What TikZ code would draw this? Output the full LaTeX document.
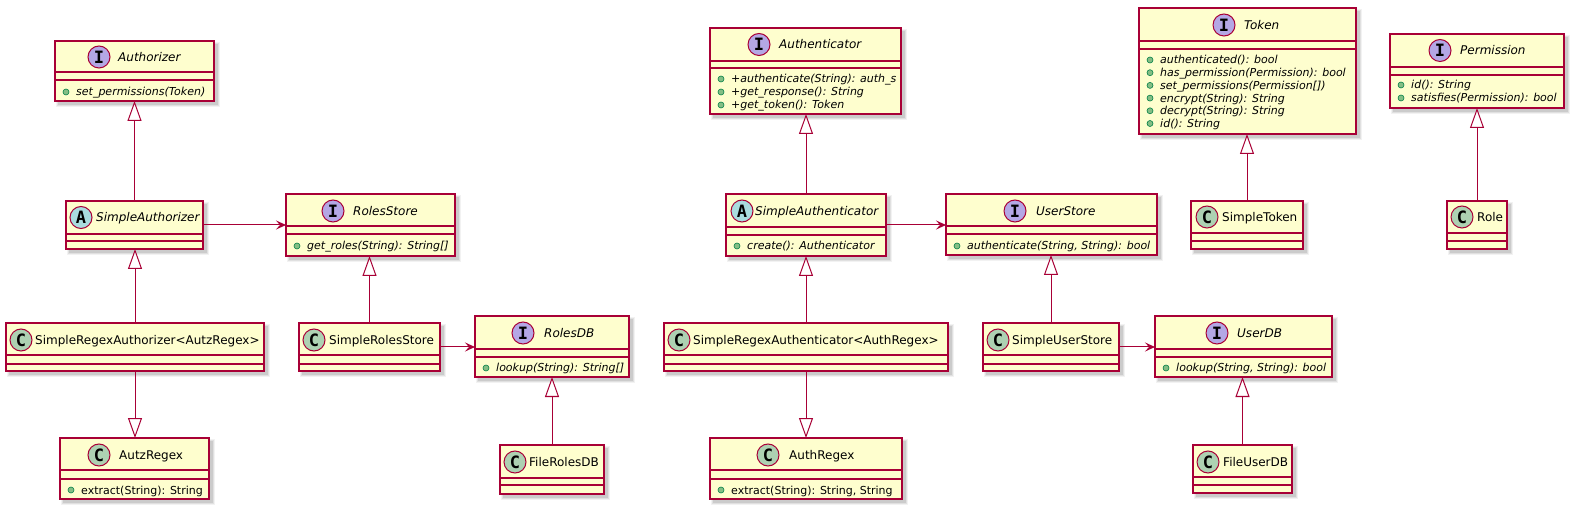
\documentclass[tikz,border=0pt]{standalone}
\usepackage{fontspec}
\setmainfont{DejaVu Sans}
\newfontfamily\iconfamily{DejaVu Sans Mono}
\usetikzlibrary{arrows.meta}
\definecolor{umlborder}{HTML}{A80036}
\definecolor{umlfill}{HTML}{FEFECE}
\definecolor{icI}{HTML}{B4A7E5}
\definecolor{icA}{HTML}{A9DCDF}
\definecolor{icC}{HTML}{ADD1B2}
\definecolor{bulfill}{HTML}{84BE84}
\definecolor{bulline}{HTML}{038048}
\tikzset{
 classbox/.style={rectangle, draw=umlborder, fill=umlfill, line width=1.5pt, inner sep=0pt, outer sep=0pt},
 sepline/.style={draw=umlborder, line width=1.5pt},
 iconc/.style={circle, draw=umlborder, line width=1pt, minimum size=22pt, inner sep=0pt, font=\iconfamily\bfseries\fontsize{17}{17}\selectfont},
 titletxt/.style={inner sep=0pt, anchor=base west, font=\fontsize{12}{14}\selectfont},
 ititle/.style={inner sep=0pt, anchor=base west, font=\fontsize{12}{14}\selectfont\itshape},
 memtxt/.style={inner sep=0pt, anchor=base west, font=\fontsize{11}{13}\selectfont},
 imem/.style={inner sep=0pt, anchor=base west, font=\fontsize{11}{13}\selectfont\itshape},
 bullet/.style={circle, draw=bulline, fill=bulfill, line width=0.6pt, minimum size=6pt, inner sep=0pt},
 ext/.style={draw=umlborder, line width=1pt, -{Triangle[length=20pt,width=14pt,fill=white]}},
 assoc/.style={draw=umlborder, line width=1pt, -{Stealth[length=10pt,width=9pt,inset=4pt]}},
}
% #1 name, #2 x1, #3 y1, #4 x2, #5 y2, #6 sep1, #7 sep2
\newcommand\cbox[7]{%
 \fill[black,opacity=.05] (#2+1,#3+1) rectangle (#4+6,#5+6);
 \fill[black,opacity=.07] (#2+2,#3+2) rectangle (#4+5,#5+5);
 \fill[black,opacity=.09] (#2+3,#3+3) rectangle (#4+4,#5+4);
 \node[classbox, anchor=north west, minimum width={(#4-#2)*1pt}, minimum height={(#5-#3)*1pt}] (#1) at (#2,#3) {};
 \draw[sepline] (#2,#6) -- (#4,#6);
 \draw[sepline] (#2,#7) -- (#4,#7);
}
% #1 name, #2 icon x, #3 y, #4 colour, #5 letter, #6 text x, #7 style, #8 text
\newcommand\ctitle[8]{%
 \node[iconc, fill=#4] (#1-ic) at (#2,#3) {#5};
 \node[#7] (#1-t) at (#6,#3+4.5) {#8};
}
% #1 node name, #2 box left, #3 y, #4 style, #5 text
\newcommand\cmem[5]{%
 \node[bullet] (#1-b) at (#2+11,#3) {};
 \node[#4] (#1) at (#2+21,#3+4) {#5};
}
\begin{document}
\begin{tikzpicture}[x=1pt,y=-1pt]
\useasboundingbox (0,0) rectangle (1582,510);
\fill[white] (0,0) rectangle (1582,510);

% Authorizer
\cbox{auth}{55}{41}{214}{101}{72}{80}
\ctitle{auth}{99}{57}{icI}{I}{118}{ititle}{Authorizer}
\cmem{auth-m1}{55}{92}{imem}{set\_permissions(Token)}

% SimpleAuthorizer
\cbox{sa}{66}{201}{203}{249}{234}{241}
\ctitle{sa}{81}{217.5}{icA}{A}{96}{ititle}{SimpleAuthorizer}

% RolesStore
\cbox{rs}{286}{194}{455}{256}{226}{234}
\ctitle{rs}{333}{211}{icI}{I}{353}{ititle}{RolesStore}
\cmem{rs-m1}{286}{246}{imem}{get\_roles(String): String[]}

% SimpleRegexAuthorizer
\cbox{sra}{6}{323}{264}{371}{355}{364}
\ctitle{sra}{21}{340}{icC}{C}{35}{titletxt}{SimpleRegexAuthorizer<AutzRegex>}

% AutzRegex
\cbox{autz}{60}{438}{209}{499}{470}{479}
\ctitle{autz}{99}{455}{icC}{C}{119}{titletxt}{AutzRegex}
\cmem{autz-m1}{60}{490}{memtxt}{extract(String): String}

% SimpleRolesStore
\cbox{srs}{299}{323}{440}{371}{355}{364}
\ctitle{srs}{314}{340}{icC}{C}{329}{titletxt}{SimpleRolesStore}

% RolesDB
\cbox{rdb}{475}{316}{629}{377}{349}{357}
\ctitle{rdb}{523}{333}{icI}{I}{544}{ititle}{RolesDB}
\cmem{rdb-m1}{475}{368}{imem}{lookup(String): String[]}

% FileRolesDB
\cbox{frdb}{500}{445}{604}{494}{478}{485}
\ctitle{frdb}{515}{462}{icC}{C}{529}{titletxt}{FileRolesDB}

% Authenticator
\cbox{authn}{710}{28}{901}{114}{61}{68}
\ctitle{authn}{759}{44.5}{icI}{I}{779}{ititle}{Authenticator}
\cmem{authn-m1}{710}{79}{imem}{+authenticate(String): auth\_s}
\cmem{authn-m2}{710}{92}{imem}{+get\_response(): String}
\cmem{authn-m3}{710}{105}{imem}{+get\_token(): Token}

% SimpleAuthenticator
\cbox{sauthn}{726}{194}{886}{256}{227}{235}
\ctitle{sauthn}{742}{211}{icA}{A}{755}{ititle}{SimpleAuthenticator}
\cmem{sauthn-m1}{726}{246}{imem}{create(): Authenticator}

% SimpleRegexAuthenticator
\cbox{srauthn}{664}{323}{948}{371}{355}{364}
\ctitle{srauthn}{679}{340}{icC}{C}{693}{titletxt}{SimpleRegexAuthenticator<AuthRegex>}

% AuthRegex
\cbox{authr}{710}{438}{902}{499}{470}{479}
\ctitle{authr}{768}{455}{icC}{C}{789}{titletxt}{AuthRegex}
\cmem{authr-m1}{710}{490}{memtxt}{extract(String): String, String}

% UserStore
\cbox{us}{946}{194}{1157}{255}{226}{234}
\ctitle{us}{1015}{211}{icI}{I}{1036}{ititle}{UserStore}
\cmem{us-m1}{946}{246}{imem}{authenticate(String, String): bool}

% SimpleUserStore
\cbox{sus}{983}{323}{1119}{371}{355}{364}
\ctitle{sus}{998}{340}{icC}{C}{1012}{titletxt}{SimpleUserStore}

% UserDB
\cbox{udb}{1155}{316}{1332}{377}{349}{357}
\ctitle{udb}{1217}{333}{icI}{I}{1237}{ititle}{UserDB}
\cmem{udb-m1}{1155}{368}{imem}{lookup(String, String): bool}

% FileUserDB
\cbox{fudb}{1193}{445}{1292}{493}{477}{485}
\ctitle{fudb}{1208}{462}{icC}{C}{1223}{titletxt}{FileUserDB}

% Token
\cbox{tok}{1139}{8}{1356}{134}{41}{49}
\ctitle{tok}{1224}{25}{icI}{I}{1244}{ititle}{Token}
\cmem{tok-m1}{1139}{60}{imem}{authenticated(): bool}
\cmem{tok-m2}{1139}{72.7}{imem}{has\_permission(Permission): bool}
\cmem{tok-m3}{1139}{85.4}{imem}{set\_permissions(Permission[])}
\cmem{tok-m4}{1139}{98.1}{imem}{encrypt(String): String}
\cmem{tok-m5}{1139}{110.8}{imem}{decrypt(String): String}
\cmem{tok-m6}{1139}{123.5}{imem}{id(): String}

% SimpleToken
\cbox{stok}{1191}{201}{1303}{249}{233}{241}
\ctitle{stok}{1207}{217}{icC}{C}{1222}{titletxt}{SimpleToken}

% Permission
\cbox{perm}{1390}{34}{1564}{108}{67}{75}
\ctitle{perm}{1440}{50.5}{icI}{I}{1460}{ititle}{Permission}
\cmem{perm-m1}{1390}{85}{imem}{id(): String}
\cmem{perm-m2}{1390}{98}{imem}{satisfies(Permission): bool}

% Role
\cbox{role}{1447}{201}{1507}{249}{233}{241}
\ctitle{role}{1462}{217}{icC}{C}{1477}{titletxt}{Role}

% connectors
\draw[ext] (sa.north) -- (sa.north |- auth.south);
\draw[ext] (sra.north) -- (sra.north |- sa.south);
\draw[ext] (sra.south) -- (sra.south |- autz.north);
\draw[assoc] (sa.east) -- (sa.east -| rs.west);
\draw[ext] (srs.north) -- (srs.north |- rs.south);
\draw[assoc] (srs.east) -- (srs.east -| rdb.west);
\draw[ext] (frdb.north) -- (frdb.north |- rdb.south);
\draw[ext] (sauthn.north) -- (sauthn.north |- authn.south);
\draw[assoc] (sauthn.east) -- (sauthn.east -| us.west);
\draw[ext] (srauthn.north) -- (srauthn.north |- sauthn.south);
\draw[ext] (srauthn.south) -- (srauthn.south |- authr.north);
\draw[ext] (sus.north) -- (sus.north |- us.south);
\draw[assoc] (sus.east) -- (sus.east -| udb.west);
\draw[ext] (fudb.north) -- (fudb.north |- udb.south);
\draw[ext] (stok.north) -- (stok.north |- tok.south);
\draw[ext] (role.north) -- (role.north |- perm.south);
\end{tikzpicture}
\end{document}
